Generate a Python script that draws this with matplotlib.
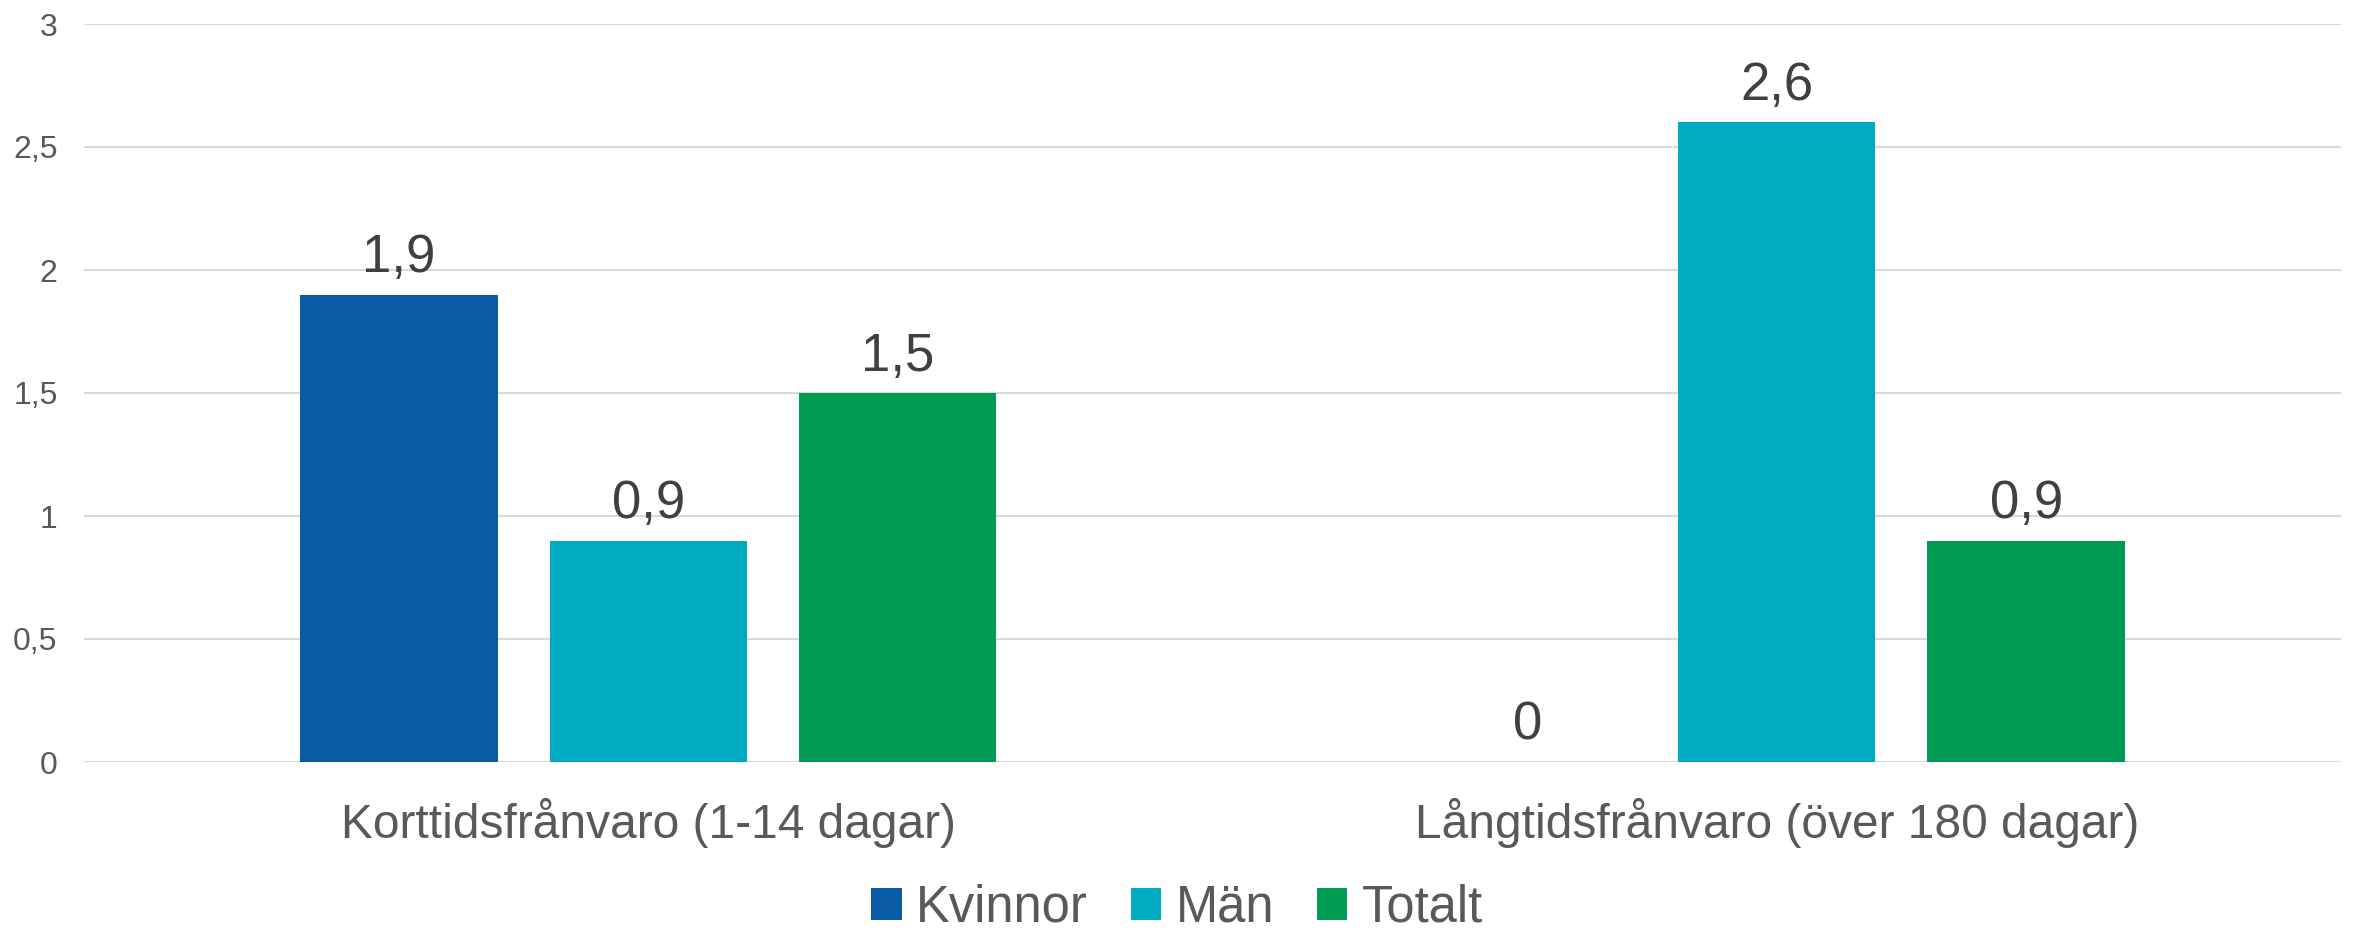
import numpy as np
import matplotlib
matplotlib.use("Agg")
import matplotlib.pyplot as plt
from matplotlib.patches import Patch

categories = ["Korttidsfrånvaro (1-14 dagar)", "Långtidsfrånvaro (över 180 dagar)"]
series_names = ["Kvinnor", "Män", "Totalt"]
kvinnor = [1.9, 0.0]
man = [0.9, 2.6]
totalt = [1.5, 0.9]
yticks = [0, 0.5, 1, 1.5, 2, 2.5, 3]

colors = ["#085CA6", "#00AAC0", "#009A52"]

plt.rcParams["font.family"] = ["Liberation Sans", "DejaVu Sans"]


def fmt(v):
    s = f"{v:g}"
    return s.replace(".", ",")


fig = plt.figure(figsize=(23.54, 9.32), dpi=100)
ax = fig.add_axes([84 / 2354, 170 / 932, 2257 / 2354, 738 / 932])

x = np.arange(len(categories))
width = 0.175
offset = 0.221
for i, (name, vals) in enumerate(zip(series_names, [kvinnor, man, totalt])):
    bars = ax.bar(x + (i - 1) * offset, vals, width, color=colors[i], label=name, zorder=3)
    ax.bar_label(bars, labels=[fmt(v) for v in vals], padding=8,
                 fontsize=38, color="#404040")

ax.set_xlim(-0.5, 1.5)
ax.set_ylim(0, 3)
ax.set_yticks(yticks)
ax.set_yticklabels([fmt(t) for t in yticks], fontsize=23, color="#595959")
ax.set_xticks(x)
ax.set_xticklabels(categories, fontsize=34.5, color="#595959")
ax.tick_params(axis="both", length=0)
ax.tick_params(axis="y", pad=19)
ax.tick_params(axis="x", pad=26)
ax.grid(axis="y", color="#D9D9D9", linewidth=1.5, zorder=0)
ax.set_axisbelow(True)
for s in ax.spines.values():
    s.set_visible(False)

handles = [Patch(facecolor=c, label=n) for c, n in zip(colors, series_names)]
fig.legend(handles=handles, loc="center", bbox_to_anchor=(0.5, 24 / 932), ncol=3,
           frameon=False, fontsize=36.5, handlelength=0.6, handleheight=0.6,
           handletextpad=0.28, columnspacing=0.85, labelcolor="#595959",
           borderaxespad=0, borderpad=0)

fig.savefig("out.png", dpi=100, facecolor="white")
